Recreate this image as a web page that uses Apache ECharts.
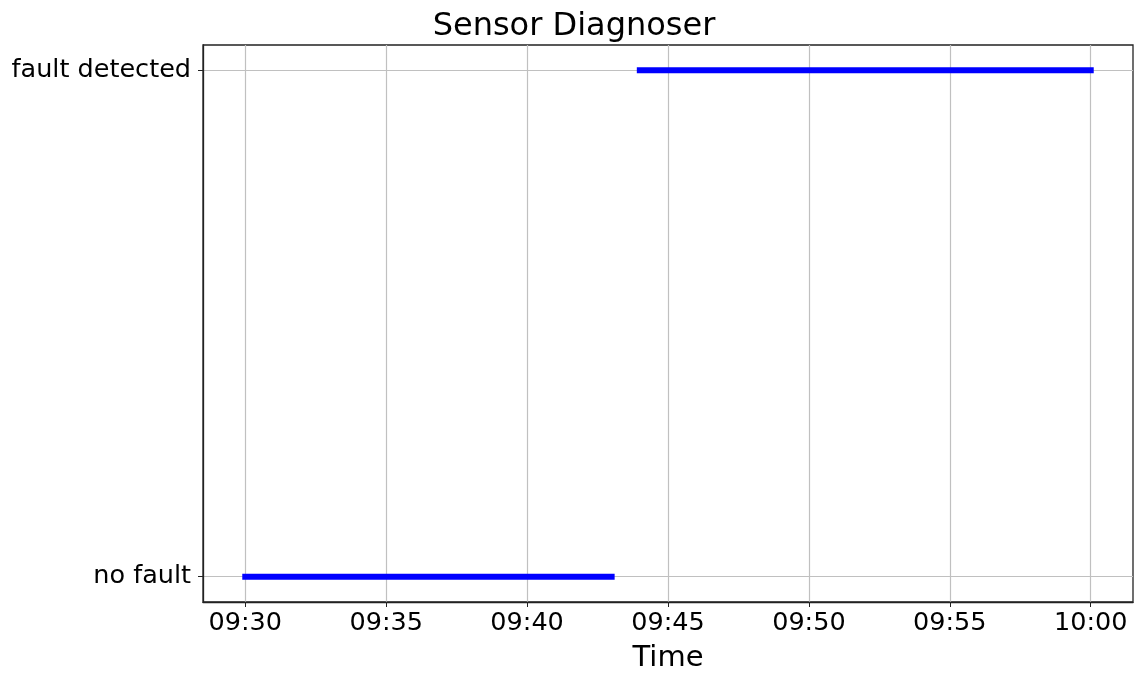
<!DOCTYPE html>
<html>
<head>
<meta charset="utf-8">
<script src="https://cdn.jsdelivr.net/npm/echarts@6/dist/echarts.min.js"></script>
<style>
html,body{margin:0;padding:0;background:#fff;}
#chart{width:1148px;height:676px;}
</style>
</head>
<body>
<div id="chart"></div>
<script>
const stateLabels = ['no fault', 'fault detected'];
const tickLabels = ['09:30', '09:35', '09:40', '09:45', '09:50', '09:55', '10:00'];
const noFaultTimes = ['09:30', '09:43'];
const noFaultStates = [0, 0];
const faultTimes = ['09:44', '10:00'];
const faultStates = [1, 1];

function toMin(s) { const p = s.split(':'); return +p[0] * 60 + +p[1]; }
function fmt(v) {
  const h = Math.floor(v / 60), m = Math.round(v - h * 60);
  return String(h).padStart(2, '0') + ':' + String(m).padStart(2, '0');
}
const tickVals = tickLabels.map(toMin);
const span = tickVals[tickVals.length - 1] - tickVals[0];
const xMin = tickVals[0] - span * 0.05;
const xMax = tickVals[tickVals.length - 1] + span * 0.05;

const font = 'DejaVu Sans';
const chart = echarts.init(document.getElementById('chart'), null, {renderer: 'canvas'});
const lineStyle = {color: '#0000ff', width: 6, cap: 'square'};
chart.setOption({
  animation: false,
  title: {
    text: 'Sensor Diagnoser', left: 'center', top: 6,
    textStyle: {fontFamily: font, fontSize: 32, fontWeight: 'normal', color: '#000'}
  },
  grid: {left: 203, right: 15, top: 45, bottom: 74, show: true, borderColor: '#222', borderWidth: 1.3, backgroundColor: 'transparent', containLabel: false, outerBoundsMode: 'none'},
  xAxis: {
    type: 'value', min: xMin, max: xMax,
    name: 'Time', nameLocation: 'middle', nameGap: 42,
    nameTextStyle: {fontFamily: font, fontSize: 29, color: '#000'},
    axisLine: {show: true, onZero: false, lineStyle: {color: '#222', width: 1.3}},
    axisTick: {show: true, inside: false, length: 5, customValues: tickVals, lineStyle: {color: '#222'}},
    axisLabel: {customValues: tickVals, formatter: v => fmt(v), fontFamily: font, fontSize: 25.5, color: '#000', margin: 8},
    splitLine: {show: true, lineStyle: {color: '#c0c0c0', width: 1.2}}
  },
  yAxis: {
    type: 'value', min: -0.05, max: 1.05,
    axisLine: {show: true, onZero: false, lineStyle: {color: '#222', width: 1.3}},
    axisTick: {show: true, inside: false, length: 5, customValues: [0, 1], lineStyle: {color: '#222'}},
    axisLabel: {customValues: [0, 1], formatter: v => stateLabels[Math.round(v)], fontFamily: font, fontSize: 25.5, color: '#000', margin: 12},
    splitLine: {show: true, lineStyle: {color: '#c0c0c0', width: 1.2}}
  },
  series: [
    {type: 'line', data: noFaultTimes.map((t, i) => [toMin(t), noFaultStates[i]]), showSymbol: false, symbol: 'none', lineStyle: lineStyle, z: 5},
    {type: 'line', data: faultTimes.map((t, i) => [toMin(t), faultStates[i]]), showSymbol: false, symbol: 'none', lineStyle: lineStyle, z: 5}
  ]
});
</script>
</body>
</html>
